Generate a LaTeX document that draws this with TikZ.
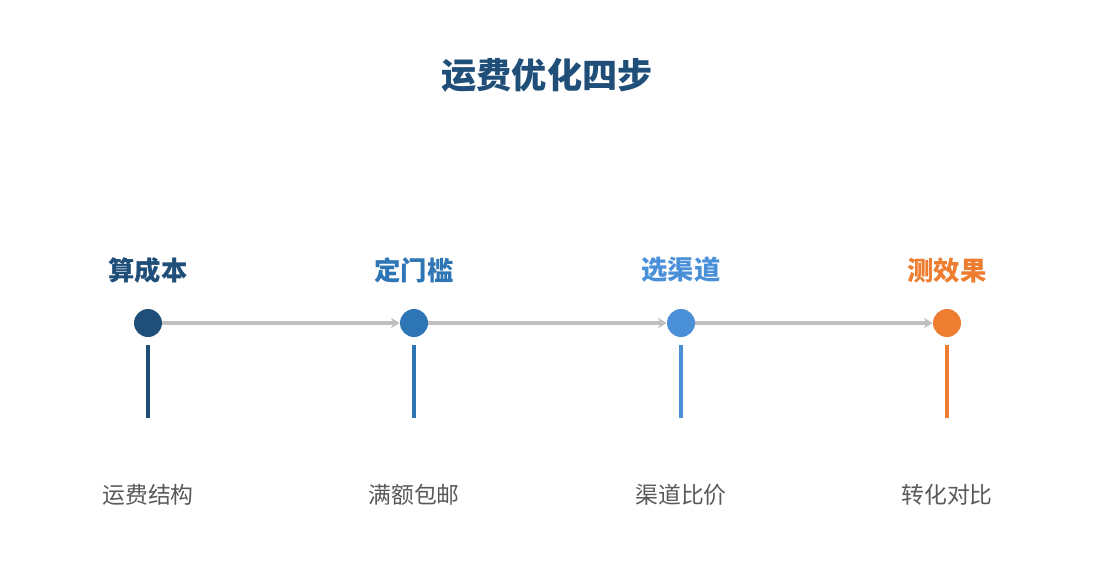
\documentclass[tikz,border=0pt]{standalone}
\usepackage{fontspec}
\newfontfamily\cjk{Noto Sans CJK SC}
\usetikzlibrary{arrows.meta}
\definecolor{stepA}{HTML}{1F4E79}
\definecolor{stepB}{HTML}{2E75B6}
\definecolor{stepC}{HTML}{4A90D9}
\definecolor{stepD}{HTML}{ED7D31}
\definecolor{flowgray}{HTML}{BFBFBF}
\definecolor{notegray}{HTML}{595959}
\begin{document}
\begin{tikzpicture}%
	[
	x=0.02cm, y=-0.02cm,
	dot/.style={circle, inner sep=0pt, minimum size=0.56cm},
	flow/.style={draw=flowgray, line width=2.5pt, -{Stealth[length=5pt,width=6pt]}},
	stem/.style={line width=2.4pt},
	steptitle/.style={font=\cjk\fontsize{15}{18}\selectfont\bfseries},
	note/.style={font=\cjk\fontsize{13}{16}\selectfont, text=notegray}]

\useasboundingbox (0,0) rectangle (1095,585);

\node[font=\cjk\fontsize{20}{24}\selectfont\bfseries, text=stepA] (title) at (547,75) {运费优化四步};

\foreach \i/\px/\col/\head/\sub in {1/148/stepA/算成本/运费结构, 2/414/stepB/定门槛/满额包邮, 3/681/stepC/选渠道/渠道比价, 4/947/stepD/测效果/转化对比}{
	\node[steptitle, text=\col] (head\i) at (\px,270) {\head};
	\node[dot, fill=\col] (dot\i) at (\px,323) {};
	\coordinate (top\i) at (\px,345);
	\coordinate (bot\i) at (\px,418);
	\draw[stem, draw=\col] (top\i) -- (bot\i);
	\node[note] (sub\i) at (\px,495) {\sub};
}

\draw[flow] (dot1) -- (dot2);
\draw[flow] (dot2) -- (dot3);
\draw[flow] (dot3) -- (dot4);
\end{tikzpicture}
\end{document}
